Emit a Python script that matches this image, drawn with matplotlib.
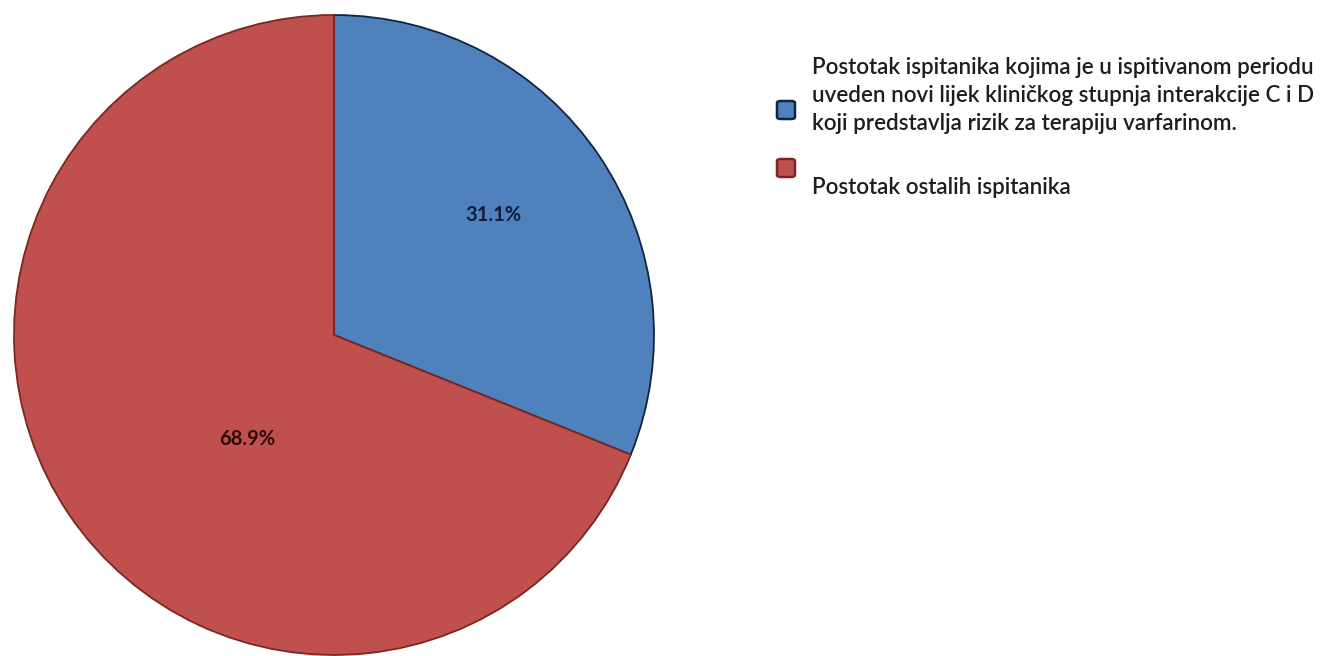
import matplotlib.pyplot as plt
from matplotlib.patches import FancyBboxPatch

# data
labels = ['Postotak ispitanika kojima je u ispitivanom periodu\n'
          'uveden novi lijek kliničkog stupnja interakcije C i D\n'
          'koji predstavlja rizik za terapiju varfarinom.',
          'Postotak ostalih ispitanika']
values = [31.1, 68.9]
colors = ['#4F81BD', '#C0504D']
edges = ['#10253F', '#7A2624']
# label spots inside the pie (radius units)
label_pos = [(0.497, 0.375), (-0.272, -0.325)]

W, H = 1326, 656
fig = plt.figure(figsize=(W / 100, H / 100), dpi=100)
font = 'Lato'
txt_col = '#1E1E1E'

# pie centre (334, 335) px from top-left, radius 320 px
cx, cy, r = 334, 335, 320
ax = fig.add_axes([(cx - r) / W, (H - cy - r) / H, 2 * r / W, 2 * r / H])
wedges, _, autotexts = ax.pie(values, colors=colors, startangle=90, counterclock=False,
                              autopct='%.1f%%', radius=1,
                              wedgeprops=dict(linewidth=1.3),
                              textprops=dict(fontsize=14.5, fontweight='bold',
                                             family=font, color='#111111'))
for w, ec in zip(wedges, edges):
    w.set_edgecolor(ec)
for t, p in zip(autotexts, label_pos):
    t.set_position(p)
autotexts[0].set_color('#0F1E3A')
autotexts[1].set_color('#2A0A0A')
ax.set_xlim(-1, 1)
ax.set_ylim(-1, 1)
ax.axis('off')

# legend, drawn by hand to match the original layout
def px(x, y):
    return x / W, 1 - y / H

fs = 15.5
lines = labels[0].split('\n')
# fit font so the first line is about 500 px wide
probe = fig.text(0, 0, lines[0], fontsize=fs, family=font, fontweight='semibold')
fig.canvas.draw()
wpx = probe.get_window_extent().width
fs = fs * 500 / wpx
probe.remove()

for i, ln in enumerate(lines):
    fig.text(*px(812, 67 + 28 * i), ln, fontsize=fs, family=font, fontweight='semibold',
             color=txt_col, va='center', ha='left')
fig.text(*px(812, 187), labels[1], fontsize=fs, family=font, fontweight='semibold',
         color=txt_col, va='center', ha='left')

for (mx, my), c, ec in zip([(786, 110), (786, 168)], colors, edges):
    s = 18
    x0, y0 = px(mx - s / 2, my + s / 2)
    box = FancyBboxPatch((x0, y0), s / W, s / H,
                         boxstyle='round,pad=0,rounding_size=0.003',
                         transform=fig.transFigure, facecolor=c,
                         edgecolor=ec, linewidth=1.8)
    fig.patches.append(box)

fig.savefig('out.png', dpi=100)
